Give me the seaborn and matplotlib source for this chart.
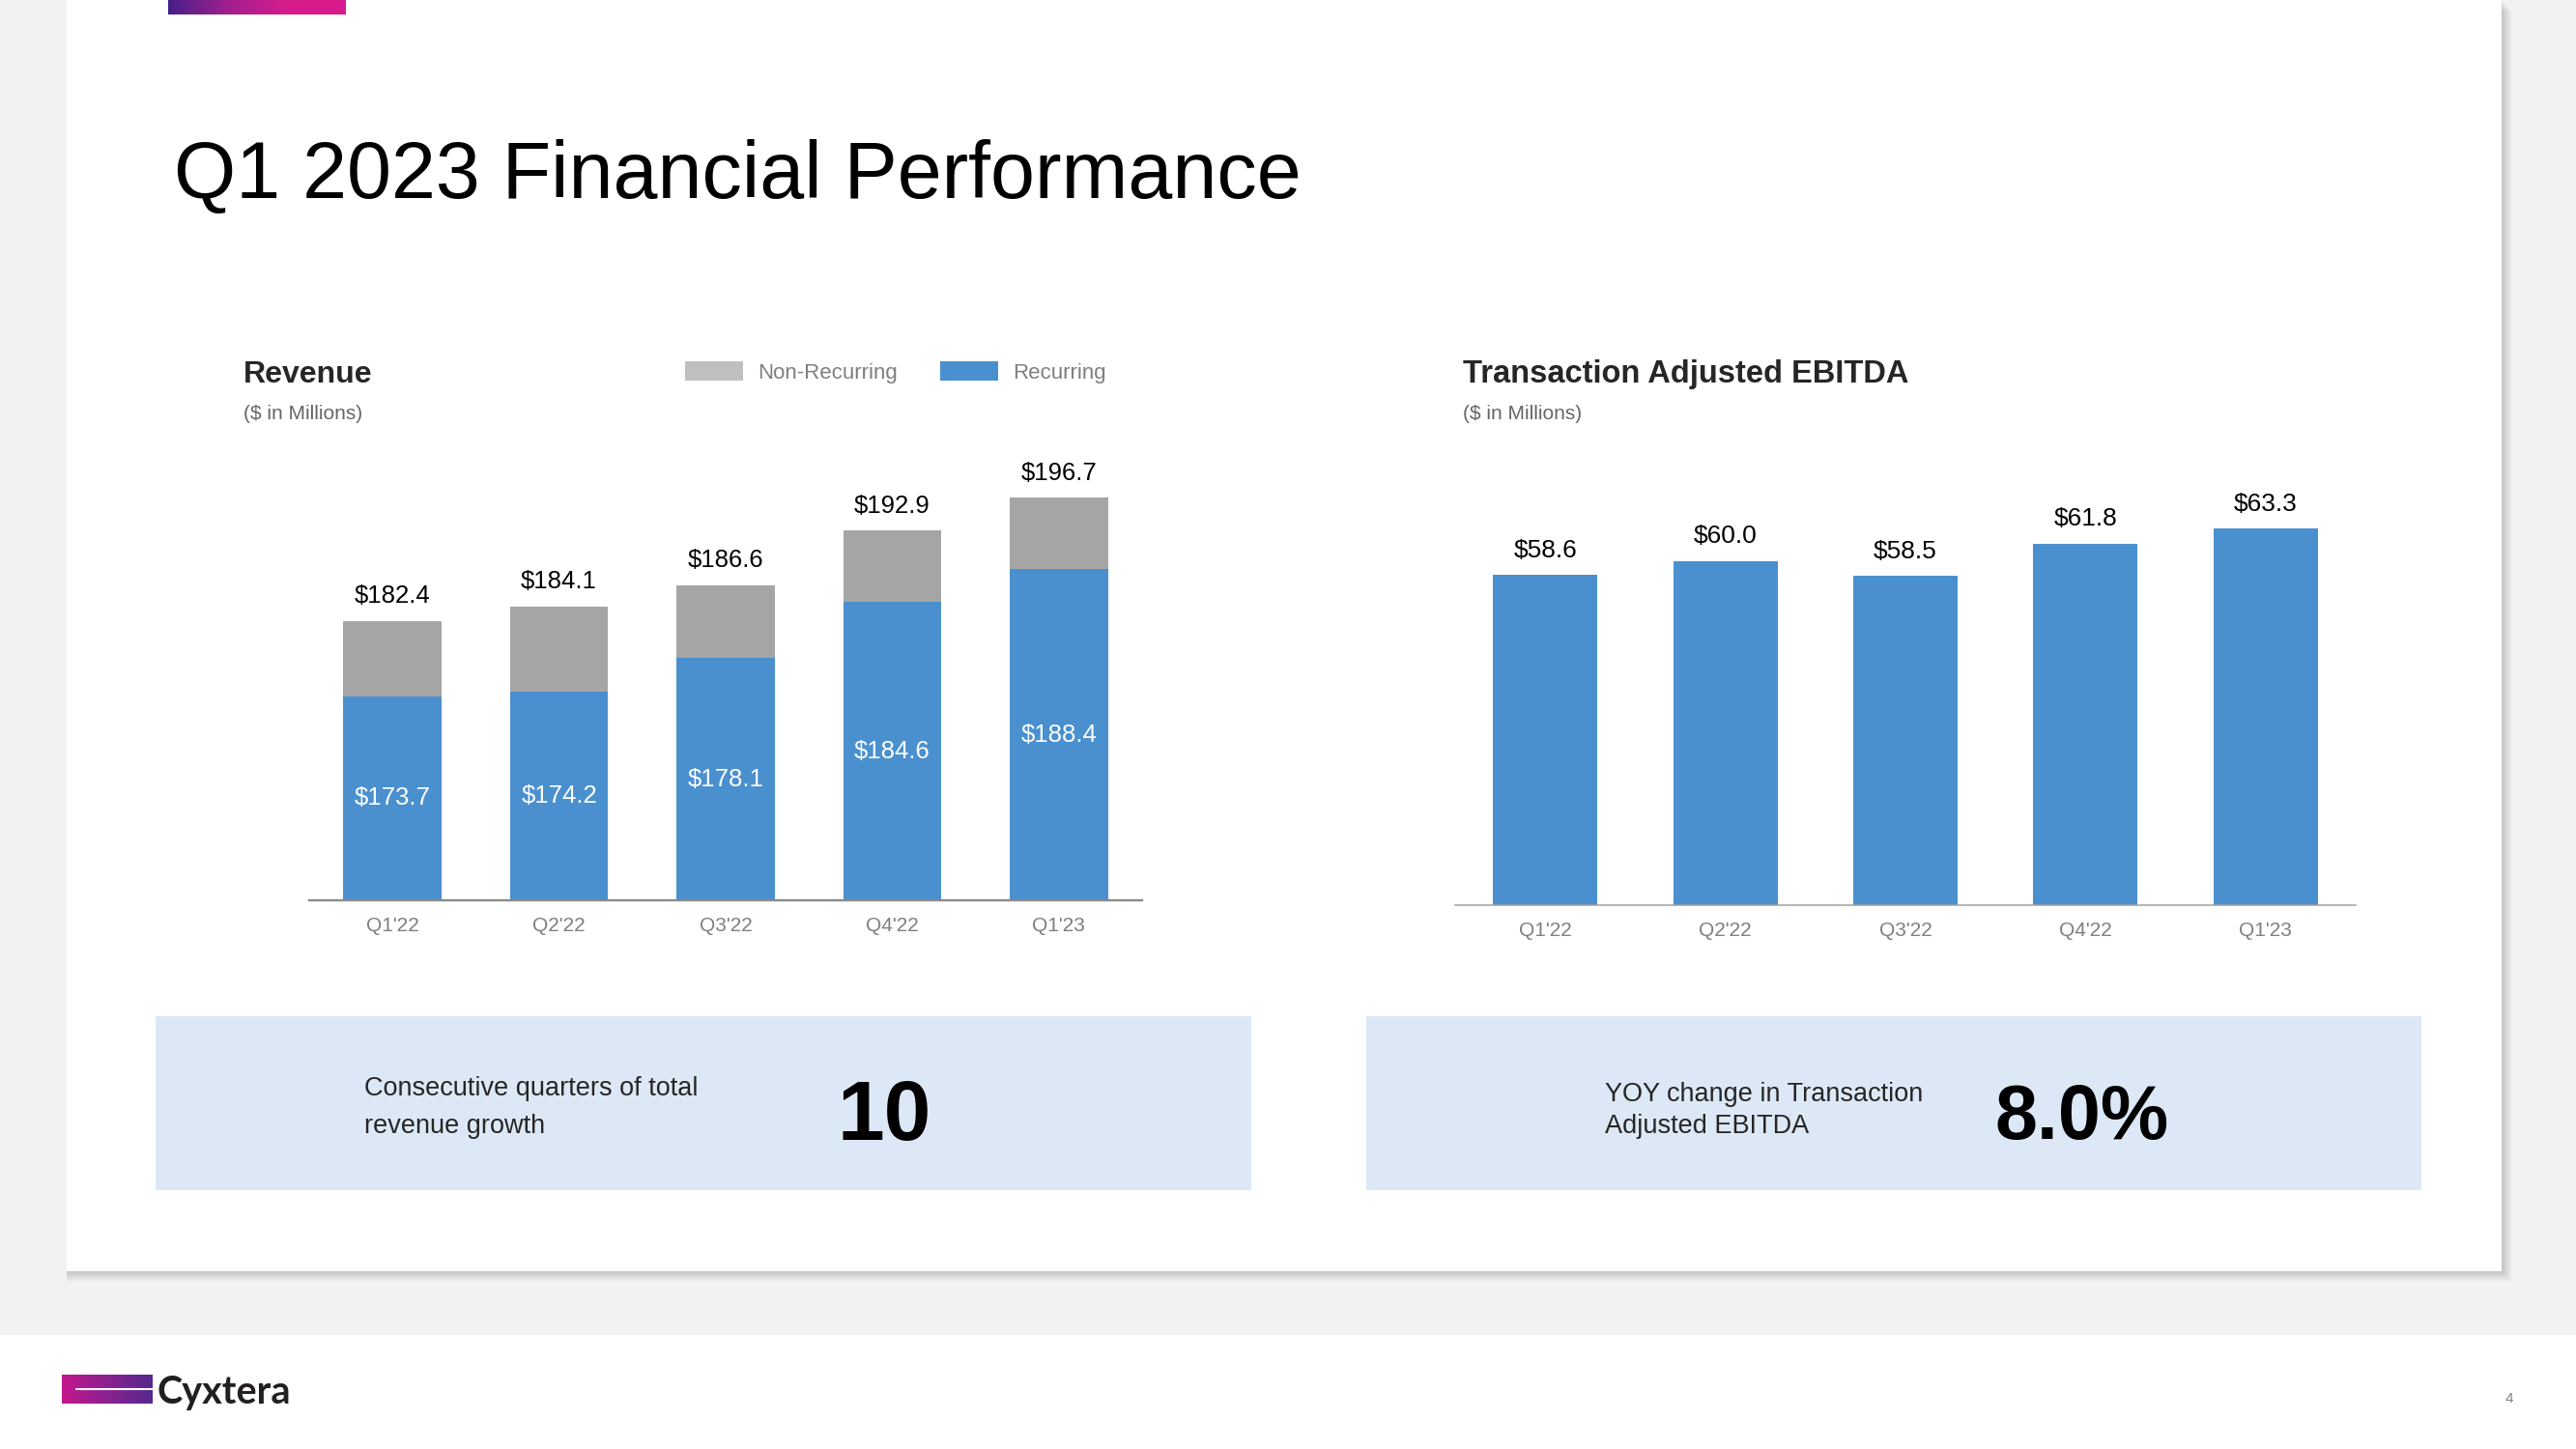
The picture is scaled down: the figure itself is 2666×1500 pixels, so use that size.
import numpy as np
import seaborn as sns
import matplotlib.pyplot as plt
from matplotlib.patches import Rectangle
from matplotlib.lines import Line2D
from matplotlib.colors import LinearSegmentedColormap

# data
quarters = ["Q1'22", "Q2'22", "Q3'22", "Q4'22", "Q1'23"]
revenue_total = [182.4, 184.1, 186.6, 192.9, 196.7]
revenue_recurring = [173.7, 174.2, 178.1, 184.6, 188.4]
ebitda = [58.6, 60.0, 58.5, 61.8, 63.3]

BLUE = "#4A90CF"
GRAY = "#A5A5A5"
LEGEND_GRAY = "#BFBFBF"
BOX = "#DCE8F5"

sns.set_style("white")
plt.rcParams["font.family"] = ["Liberation Sans", "DejaVu Sans"]

W, H = 2666, 1500


def fx(px):
    return px / W


def fy(py):
    return 1 - py / H


fig = plt.figure(figsize=(W / 100, H / 100), dpi=100)
fig.patch.set_facecolor("#F2F2F2")

# slide card with a soft shadow
for i in range(1, 12):
    fig.add_artist(Rectangle((fx(69), fy(1316 + i)), fx(2520 + i), 1316 / H,
                             transform=fig.transFigure, color="black",
                             alpha=0.014, lw=0, zorder=-9))
fig.add_artist(Rectangle((fx(69), fy(1316)), fx(2520), 1316 / H,
                         transform=fig.transFigure, color="white", lw=0, zorder=-8))
# footer band
fig.add_artist(Rectangle((0, 0), 1, 118 / H, transform=fig.transFigure,
                         color="white", lw=0, zorder=-8))

# top gradient accent
top_cmap = LinearSegmentedColormap.from_list("top", ["#46208A", "#A01F8D", "#D61C8E", "#D81B8D"])
ax_g = fig.add_axes([fx(174), fy(15), fx(183), 15 / H])
ax_g.imshow(np.linspace(0, 1, 256)[None, :], cmap=top_cmap, aspect="auto")
ax_g.axis("off")

fig.text(fx(180), fy(205), "Q1 2023 Financial Performance", fontsize=59.5,
         color="black", va="baseline")

# ---- Revenue chart ----
ax1 = fig.add_axes([fx(320), fy(932), fx(862), 52 * 8.92 / H])
sns.barplot(x=quarters, y=revenue_total, color=GRAY, width=0.59, saturation=1,
            linewidth=0, ax=ax1)
sns.barplot(x=quarters, y=revenue_recurring, color=BLUE, width=0.59, saturation=1,
            linewidth=0, ax=ax1)
ax1.set_ylim(150, 202)
ax1.set_xlim(-0.5, 4.5)
for i, (t, r) in enumerate(zip(revenue_total, revenue_recurring)):
    ax1.annotate(f"${t:.1f}", xy=(i, t), xytext=(0, 13.5), textcoords="offset points",
                 ha="center", va="baseline", fontsize=18.5, color="black")
    ax1.text(i, (150 + r) / 2, f"${r:.1f}", ha="center", va="center",
             fontsize=18.5, color="white")

fig.text(fx(252), fy(396), "Revenue", fontsize=23, fontweight="bold", va="baseline")
fig.text(fx(252), fy(434), "($ in Millions)", fontsize=15, color="#666666", va="baseline")

# legend
fig.add_artist(Rectangle((fx(709), fy(394)), fx(60), 20 / H, transform=fig.transFigure,
                         color=LEGEND_GRAY, lw=0))
fig.text(fx(784), fy(392), "Non-Recurring", fontsize=16, color="#7F7F7F", va="baseline")
fig.add_artist(Rectangle((fx(973), fy(394)), fx(60), 20 / H, transform=fig.transFigure,
                         color=BLUE, lw=0))
fig.text(fx(1048), fy(392), "Recurring", fontsize=16, color="#7F7F7F", va="baseline")

# ---- EBITDA chart ----
ax2 = fig.add_axes([fx(1506), fy(937), fx(932), 42 * 10.17 / H])
sns.barplot(x=quarters, y=ebitda, color=BLUE, width=0.58, saturation=1,
            linewidth=0, ax=ax2)
ax2.set_ylim(25, 67)
ax2.set_xlim(-0.5, 4.5)
for i, v in enumerate(ebitda):
    ax2.annotate(f"${v:.1f}", xy=(i, v), xytext=(0, 13.5), textcoords="offset points",
                 ha="center", va="baseline", fontsize=19, color="black")

fig.text(fx(1514), fy(396), "Transaction Adjusted EBITDA", fontsize=23.5,
         fontweight="bold", va="baseline")
fig.text(fx(1514), fy(434), "($ in Millions)", fontsize=15, color="#666666", va="baseline")

for ax, lw, lc in [(ax1, 1.7, "#8A8A8A"), (ax2, 1.1, "#A0A0A0")]:
    ax.set_facecolor("none")
    ax.set_xlabel("")
    ax.set_ylabel("")
    ax.set_yticks([])
    for s in ["left", "right", "top"]:
        ax.spines[s].set_visible(False)
    ax.spines["bottom"].set_color(lc)
    ax.spines["bottom"].set_linewidth(lw)
    ax.tick_params(axis="x", length=0, pad=12, labelsize=15, labelcolor="#7F7F7F")

# ---- highlight boxes ----
fig.add_artist(Rectangle((fx(161), fy(1232)), fx(1134), 180 / H,
                         transform=fig.transFigure, color=BOX, lw=0, zorder=-5))
fig.add_artist(Rectangle((fx(1414), fy(1232)), fx(1092), 180 / H,
                         transform=fig.transFigure, color=BOX, lw=0, zorder=-5))

fig.text(fx(377), fy(1134), "Consecutive quarters of total", fontsize=19.5, va="baseline")
fig.text(fx(377), fy(1173), "revenue growth", fontsize=19.5, va="baseline")
fig.text(fx(915), fy(1180), "10", fontsize=63, fontweight="bold", ha="center",
         va="baseline", color="black")

fig.text(fx(1661), fy(1140), "YOY change in Transaction", fontsize=19.5, va="baseline")
fig.text(fx(1661), fy(1173), "Adjusted EBITDA", fontsize=19.5, va="baseline")
fig.text(fx(2155), fy(1179), "8.0%", fontsize=57, fontweight="bold", ha="center",
         va="baseline", color="black")

# ---- footer logo ----
logo_cmap = LinearSegmentedColormap.from_list("logo", ["#C4178C", "#8A2290", "#55298F"])
ax_l = fig.add_axes([fx(64), fy(1453), fx(94), 30 / H])
ax_l.imshow(np.linspace(0, 1, 256)[None, :], cmap=logo_cmap, aspect="auto")
ax_l.axis("off")
fig.add_artist(Line2D([fx(79), fx(158)], [fy(1438), fy(1438)], transform=fig.transFigure,
                      color="white", lw=1.5, zorder=3))
fig.text(fx(163), fy(1453), "Cyxtera", fontsize=28.5, fontweight="bold", color="#231F20",
         va="baseline", family=["Lato", "Liberation Sans"])

fig.text(fx(2597), fy(1452), "4", fontsize=11, color="#808080", ha="center", va="baseline")

fig.savefig("out.png", dpi=100, facecolor=fig.get_facecolor())
